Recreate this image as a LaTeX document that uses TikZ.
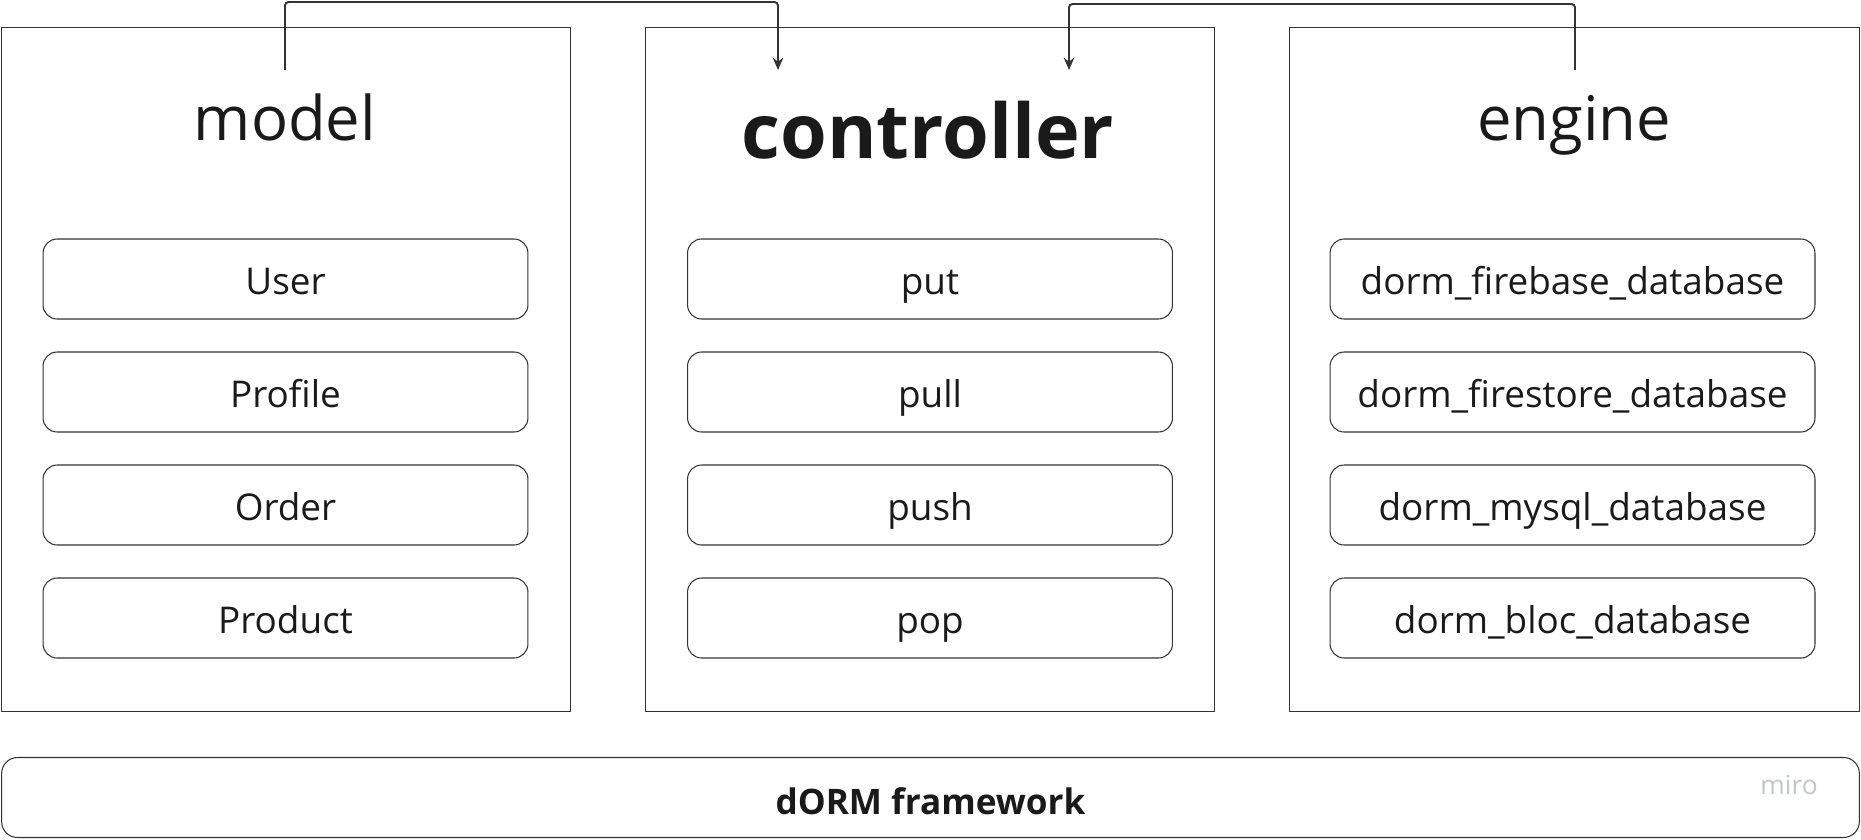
\documentclass[tikz,border=0pt]{standalone}
\usepackage{fontspec}
\setmainfont{Open Sans}
\usepackage{xcolor}
\usetikzlibrary{arrows.meta}
\definecolor{ink}{HTML}{1A1A1A}
\definecolor{edge}{HTML}{333333}
\definecolor{mirogray}{HTML}{C3C6D1}

\begin{document}
\begin{tikzpicture}[x=0.02cm,y=-0.02cm]
		\tikzstyle{every node}+=[inner sep=0pt, text=ink]
		\tikzstyle{panel}=[draw=edge, line width=0.6pt, minimum width=11.40cm, minimum height=13.70cm]
		\tikzstyle{item}=[draw=edge, line width=0.6pt, rounded corners=8pt, minimum width=9.70cm, minimum height=1.60cm, text height=17.4pt, text depth=0pt, font=\fontsize{21}{25}\selectfont]
		\tikzstyle{title}=[anchor=base, font=\fontsize{35}{42}\selectfont]
		\tikzstyle{flow}=[draw=edge, line width=1.1pt, rounded corners=2pt, -{Stealth[length=7pt,width=6pt]}]
		\useasboundingbox (0,0) rectangle (1861,839);
		% three panels
		\node [panel] (modelbox) at (286,369.5) {};
		\node [panel] (ctrlbox) at (930,369.5) {};
		\node [panel] (enginebox) at (1574.5,369.5) {};
		\node [title] (modeltitle) at (285,140) {model};
		\node [title, font=\fontsize{43}{50}\selectfont\bfseries] (ctrltitle) at (928,158) {controller};
		\node [title] (enginetitle) at (1574,140) {engine};
		% model items
		\node [item] (user) at (285.5,279) {User};
		\node [item] (profile) at (285.5,392) {Profile};
		\node [item] (order) at (285.5,505) {Order};
		\node [item] (product) at (285.5,618) {Product};
		% controller items
		\node [item] (put) at (930,279) {put};
		\node [item] (pull) at (930,392) {pull};
		\node [item] (push) at (930,505) {push};
		\node [item] (pop) at (930,618) {pop};
		% engine items
		\node [item] (firebase) at (1572.5,279) {dorm\_firebase\_database};
		\node [item] (firestore) at (1572.5,392) {dorm\_firestore\_database};
		\node [item] (mysql) at (1572.5,505) {dorm\_mysql\_database};
		\node [item] (bloc) at (1572.5,618) {dorm\_bloc\_database};
		% framework bar
		\node [draw=edge, line width=0.6pt, rounded corners=9pt, minimum width=37.16cm, minimum height=1.60cm, text height=18.8pt, text depth=0pt, font=\fontsize{20}{24}\selectfont\bfseries] (framework) at (930.5,797.5) {dORM framework};
		\node [anchor=base, text=mirogray, font=\fontsize{15}{18}\selectfont] (mirotag) at (1789,794) {miro};
		% connectors
		\coordinate (modelport) at (285,70);
		\coordinate (ctrlportA) at (778,70);
		\coordinate (ctrlportB) at (1069,70);
		\coordinate (engineport) at (1575,70);
		\draw [flow] (modelport) -- ++(0,-68) -| (ctrlportA);
		\draw [flow] (engineport) -- ++(0,-66) -| (ctrlportB);
	\end{tikzpicture}
\end{document}
